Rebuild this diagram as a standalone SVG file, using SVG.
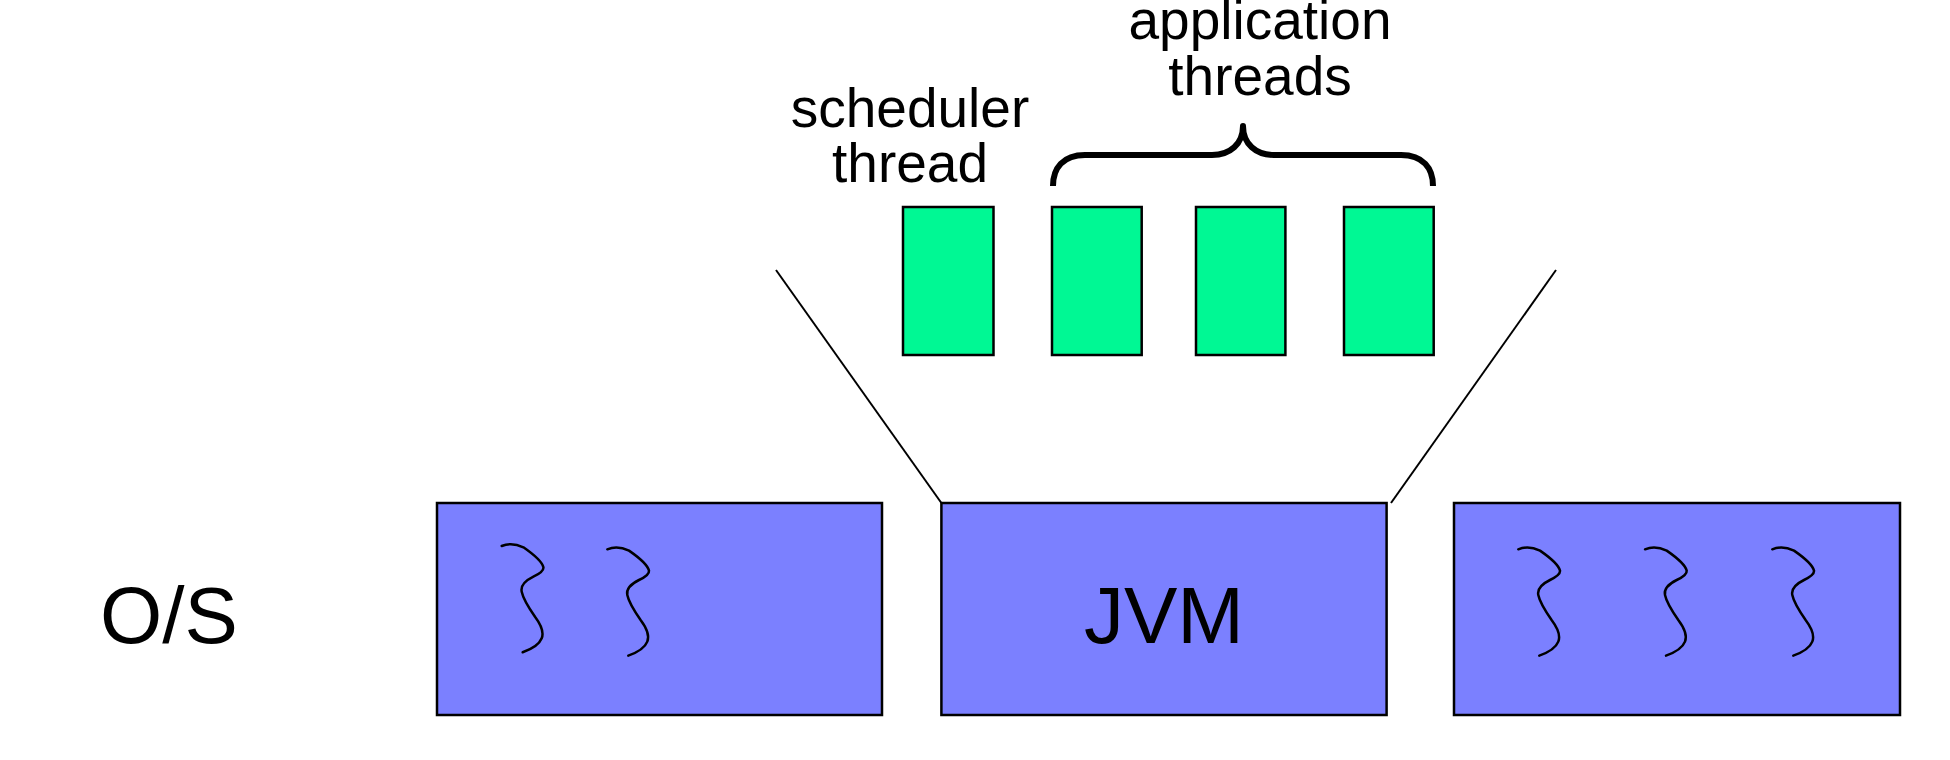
<svg xmlns="http://www.w3.org/2000/svg" xmlns:xlink="http://www.w3.org/1999/xlink" width="1950" height="760" viewBox="0 0 1950 760">
<style>
.box{fill:#7b80ff;stroke:#000;stroke-width:2.5}
.thr{fill:#00f894;stroke:#000;stroke-width:2.5}
.sq{fill:none;stroke:#000;stroke-width:2.5;stroke-linecap:round}
.ln{fill:none;stroke:#000;stroke-width:2}
.brace{fill:none;stroke:#000;stroke-width:6;stroke-linecap:butt;stroke-linejoin:round}
text{font-family:"Liberation Sans",Arial,sans-serif;fill:#000}
.lbl{font-size:55px;text-anchor:middle}
.big{font-size:80px}
</style>
<defs>
<path id="squiggle" class="sq" d="M0,0 Q10,-4.3 21.7,1.3 Q40,14 41.7,21.3 Q42.3,25.7 31.7,30.7 Q18.3,37.3 20,45.7 Q21.7,54 33.3,70.7 Q43.3,84 40,92.3 Q36.7,100.7 21,106.3"/>
</defs>
<rect width="1950" height="760" fill="#fff"/>
<g id="connectors">
<line class="ln" x1="776" y1="270" x2="941.4" y2="503"/>
<line class="ln" x1="1556" y1="270" x2="1391" y2="503"/>
<path class="brace" d="M1053,186 C1053,168 1063,155 1085,155 L1212,155 C1230,155 1243,144 1243,126 C1243,144 1256,155 1274,155 L1401,155 C1423,155 1433,168 1433,186"/>
</g>
<g id="os-label"><text class="big" x="100" y="643">O/S</text></g>
<g id="os-box-left">
<rect class="box" x="437" y="503" width="445" height="212"/>
<use xlink:href="#squiggle" x="501.7" y="546"/>
<use xlink:href="#squiggle" x="607.3" y="549.3"/>
</g>
<g id="jvm">
<rect class="box" x="941.4" y="503" width="445.2" height="212"/>
<text class="big" x="1164" y="643" text-anchor="middle">JVM</text>
</g>
<g id="os-box-right">
<rect class="box" x="1454" y="503" width="446" height="212"/>
<use xlink:href="#squiggle" x="1518.3" y="549.3"/>
<use xlink:href="#squiggle" x="1645" y="549.3"/>
<use xlink:href="#squiggle" x="1772.3" y="549.3"/>
</g>
<g id="scheduler-thread">
<rect class="thr" x="903" y="207" width="90.5" height="148"/>
<text class="lbl" x="910" y="127">scheduler</text>
<text class="lbl" x="910" y="182">thread</text>
</g>
<g id="app-thread-1"><rect class="thr" x="1052" y="207" width="89.7" height="148"/></g>
<g id="app-thread-2"><rect class="thr" x="1196" y="207" width="89.4" height="148"/></g>
<g id="app-thread-3"><rect class="thr" x="1344" y="207" width="89.7" height="148"/></g>
<g id="app-label">
<text class="lbl" x="1260" y="39">application</text>
<text class="lbl" x="1260" y="95">threads</text>
</g>
</svg>
